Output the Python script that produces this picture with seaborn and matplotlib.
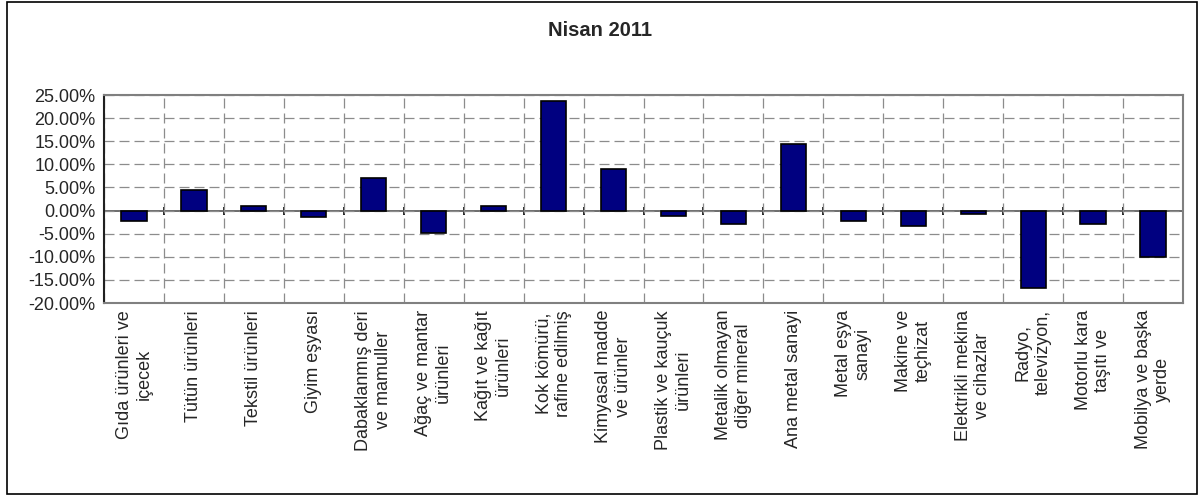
import numpy as np
import pandas as pd
import matplotlib
matplotlib.use("Agg")
import matplotlib.pyplot as plt
import seaborn as sns

# data (monthly change, %)
categories = [
    "Gıda ürünleri ve\niçecek", "Tütün ürünleri", "Tekstil ürünleri",
    "Giyim eşyası", "Dabaklanmış deri\nve mamuller", "Ağaç ve mantar\nürünleri",
    "Kağıt ve kağıt\nürünleri", "Kok kömürü,\nrafine edilmiş",
    "Kimyasal madde\nve ürünler", "Plastik ve kauçuk\nürünleri",
    "Metalik olmayan\ndiğer mineral", "Ana metal sanayi", "Metal eşya\nsanayi",
    "Makine ve\nteçhizat", "Elektrikli mekina\nve cihazlar", "Radyo,\ntelevizyon,",
    "Motorlu kara\ntaşıtı ve", "Mobilya ve başka\nyerde",
]
values = [-2.3, 4.5, 0.9, -1.4, 7.1, -4.8, 0.9, 23.7, 9.0,
          -1.2, -3.0, 14.5, -2.3, -3.4, -0.8, -16.7, -3.0, -10.0]
y_ticks = [-20, -15, -10, -5, 0, 5, 10, 15, 20, 25]
title = "Nisan 2011"

sns.set_style("white")
plt.rcParams["font.family"] = ["Liberation Sans", "DejaVu Sans"]

df = pd.DataFrame({"category": categories, "value": values})

fig = plt.figure(figsize=(12, 4.96), dpi=100)
ax = fig.add_axes([104 / 1200, 1 - 303 / 496, (1183 - 104) / 1200, 208 / 496])

sns.barplot(data=df, x="category", y="value", color="#000080",
            edgecolor="black", linewidth=1.2, width=0.42, saturation=1, ax=ax)

ymin, ymax = y_ticks[0], y_ticks[-1]
ax.set_xlim(-0.5, len(categories) - 0.5)
ax.set_ylim(ymin, ymax)
ax.set_xlabel("")
ax.set_ylabel("")

# y axis
ax.set_yticks(y_ticks)
ax.set_yticklabels([f"{t:.2f}%" for t in y_ticks], fontsize=13)
ax.tick_params(axis="y", direction="out", length=4, width=1, color="black", pad=2)

# x labels under the plot area
ax.set_xticks(range(len(categories)))
ax.set_xticklabels(categories, rotation=90, fontsize=13, ha="center", va="top",
                   multialignment="center", linespacing=1.2)
ax.tick_params(axis="x", which="major", length=0, pad=5)
ax.set_xticks(np.arange(len(categories) + 1) - 0.5, minor=True)
ax.tick_params(axis="x", which="minor", length=0)

# dashed grid
ax.grid(True, axis="y", which="major", color="#8c8c8c", linestyle=(0, (8, 4)), lw=0.9)
ax.grid(True, axis="x", which="minor", color="#8c8c8c", linestyle=(0, (8, 4)), lw=0.9)
ax.grid(False, axis="x", which="major")
ax.set_axisbelow(True)

for side in ["top", "right", "bottom"]:
    ax.spines[side].set_color("#808080")
    ax.spines[side].set_linewidth(1.5)
ax.spines["left"].set_color("#202020")
ax.spines["left"].set_linewidth(1.5)

# category axis crossing at zero with its tick marks
zero_frac = (0 - ymin) / (ymax - ymin)
sec = ax.secondary_xaxis(zero_frac)
sec.set_xticks(np.arange(len(categories) + 1) - 0.5)
sec.set_xticklabels([])
sec.tick_params(direction="inout", length=6, width=1.2, color="black")
sec.spines["bottom"].set_color("#606060")
sec.spines["bottom"].set_linewidth(1.3)

fig.text(0.5, 1 - 30 / 496, title, ha="center", va="center",
         fontsize=14.5, fontweight="bold")

# outer chart border
fig.patches.append(plt.Rectangle((7 / 1200, 2 / 496), 1190 / 1200, 492 / 496,
                                 transform=fig.transFigure, fill=False,
                                 edgecolor="black", lw=1.2))

fig.savefig("out.png", dpi=100)
